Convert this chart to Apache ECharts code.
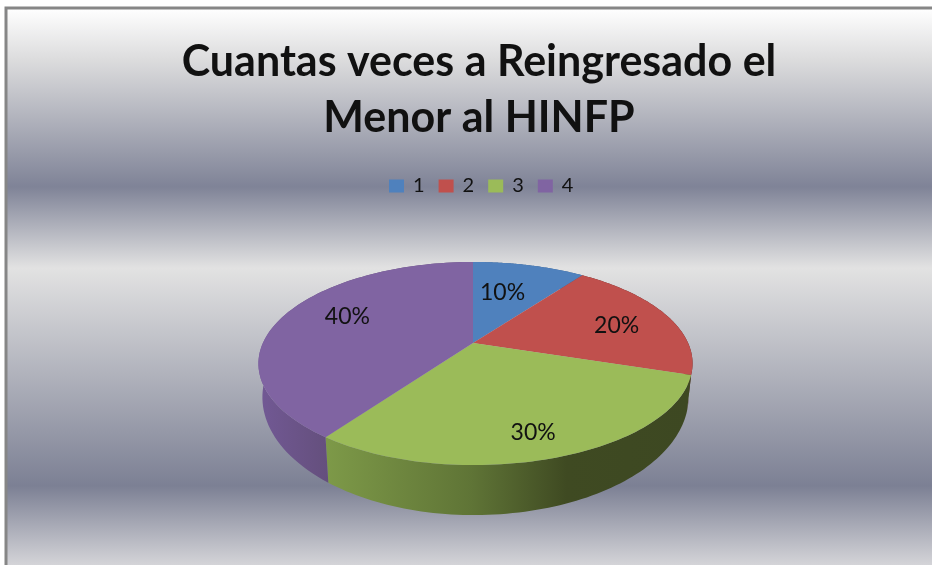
<!DOCTYPE html>
<html>
<head>
<meta charset="utf-8">
<style>html,body{margin:0;padding:0;background:#fff}#c{width:932px;height:565px}</style>
<script src="https://cdn.jsdelivr.net/npm/echarts@6/dist/echarts.min.js"></script>
</head>
<body>
<div id="c"></div>
<script>
const titleText = 'Cuantas veces a Reingresado el\nMenor al HINFP';
const categories = ['1', '2', '3', '4'];
const values = [10, 20, 30, 40];
const colors = ['#4f81bd', '#c0504d', '#9bbb59', '#8064a2'];
const wallColors = ['#3a5f8c', '#5c2625', '#3d4822', '#6d5589'];

// Perspective disc layout
const cx = 473, cy = 343, A = 212.6, B = 97.4, K = 0.202, rimShift = 2.5;
// the rim ellipse, and the lower edge of the wall as a scaled copy of it
const rim = {cx: 475, cy: 363.5, rx: 217, ry: 101.5};
const base = {cx: 475, cy: 397, rx: 213, ry: 118};
const labelRadius = 0.7;
const labelNudge = [[-11, 7], [8, 3], [7, 15], [10, -6]];

const total = values.reduce((s, v) => s + v, 0);
function project(frac, r) {
  const a = frac * 2 * Math.PI;
  const u = r * Math.sin(a), v = -r * Math.cos(a), w = 1 - K * v;
  return [A * u / w + (r === 1 ? rimShift * Math.sqrt(Math.abs(u)) : 0), B * v / w];
}
function arc(f0, f1, bottom) {
  const pts = [];
  const n = 80;
  for (let i = 0; i <= n; i++) {
    const p = project(f0 + (f1 - f0) * i / n, 1);
    const x = cx + p[0], y = cy + p[1];
    pts.push(bottom
      ? [base.cx + (x - rim.cx) * base.rx / rim.rx, base.cy + (y - rim.cy) * base.ry / rim.ry]
      : [x, y]);
  }
  return pts;
}
const G = echarts.graphic.LinearGradient;
function wallFill(i) {
  if (i === 2) return new G(327, 0, 690, 0, [
    {offset: 0, color: '#7d9948'}, {offset: 0.4, color: '#5f7436'},
    {offset: 0.66, color: '#3f4a22'}, {offset: 1, color: '#3d4822'}], true);
  if (i === 3) return new G(258, 0, 330, 0, [
    {offset: 0, color: '#725995'}, {offset: 1, color: '#644f7c'}], true);
  return wallColors[i];
}
function makeSeries(name, i) {
  const start = values.slice(0, i).reduce((s, v) => s + v, 0) / total;
  const end = start + values[i] / total;
  return {
    name, type: 'custom', coordinateSystem: 'none', clip: false,
    itemStyle: {color: colors[i]},
    data: [values[i]],
    renderItem() {
      const top = arc(start, end, false);
      const low = arc(start, end, true).reverse();
      const lp = project((start + end) / 2, labelRadius);
      return {type: 'group', children: [
        {type: 'polygon', shape: {points: top.concat(low)}, style: {fill: wallFill(i)}},
        {type: 'polygon', shape: {points: [[cx, cy]].concat(top)}, style: {fill: colors[i]}},
        {type: 'text', x: cx + lp[0] + labelNudge[i][0], y: cy + lp[1] + labelNudge[i][1], style: {
          text: Math.round(values[i] / total * 100) + '%',
          fill: '#111', font: '23px Lato', align: 'center', verticalAlign: 'middle'}}
      ]};
    }
  };
}
const chart = echarts.init(document.getElementById('c'), null, {renderer: 'canvas'});
chart.setOption({
  animation: false,
  backgroundColor: '#fff',
  title: {
    text: titleText, left: 474, top: 29, textAlign: 'center',
    textStyle: {fontFamily: 'Lato', fontWeight: 'bold', fontSize: 43, lineHeight: 56, color: '#111'}
  },
  legend: {
    data: categories, left: 384, top: 171, icon: 'rect', itemWidth: 15, itemHeight: 13, itemGap: 14, selectedMode: false,
    textStyle: {fontFamily: 'Lato', fontSize: 20, color: '#111', padding: [0, 0, 0, 4]}
  },
  graphic: [{
    type: 'rect', z: -10, silent: true,
    shape: {x: 6, y: 8, width: 940, height: 570},
    style: {
      stroke: '#868686', lineWidth: 3,
      fill: new G(0, 8, 0, 565, [
        {offset: 0, color: '#ffffff'},
        {offset: 0.093, color: '#dcdcdd'},
        {offset: 0.321, color: '#7f8397'},
        {offset: 0.467, color: '#e2e2e2'},
        {offset: 0.858, color: '#7c8094'},
        {offset: 1, color: '#d4d4d8'}
      ], true)
    }
  }],
  series: categories.map(makeSeries)
});
</script>
</body>
</html>
